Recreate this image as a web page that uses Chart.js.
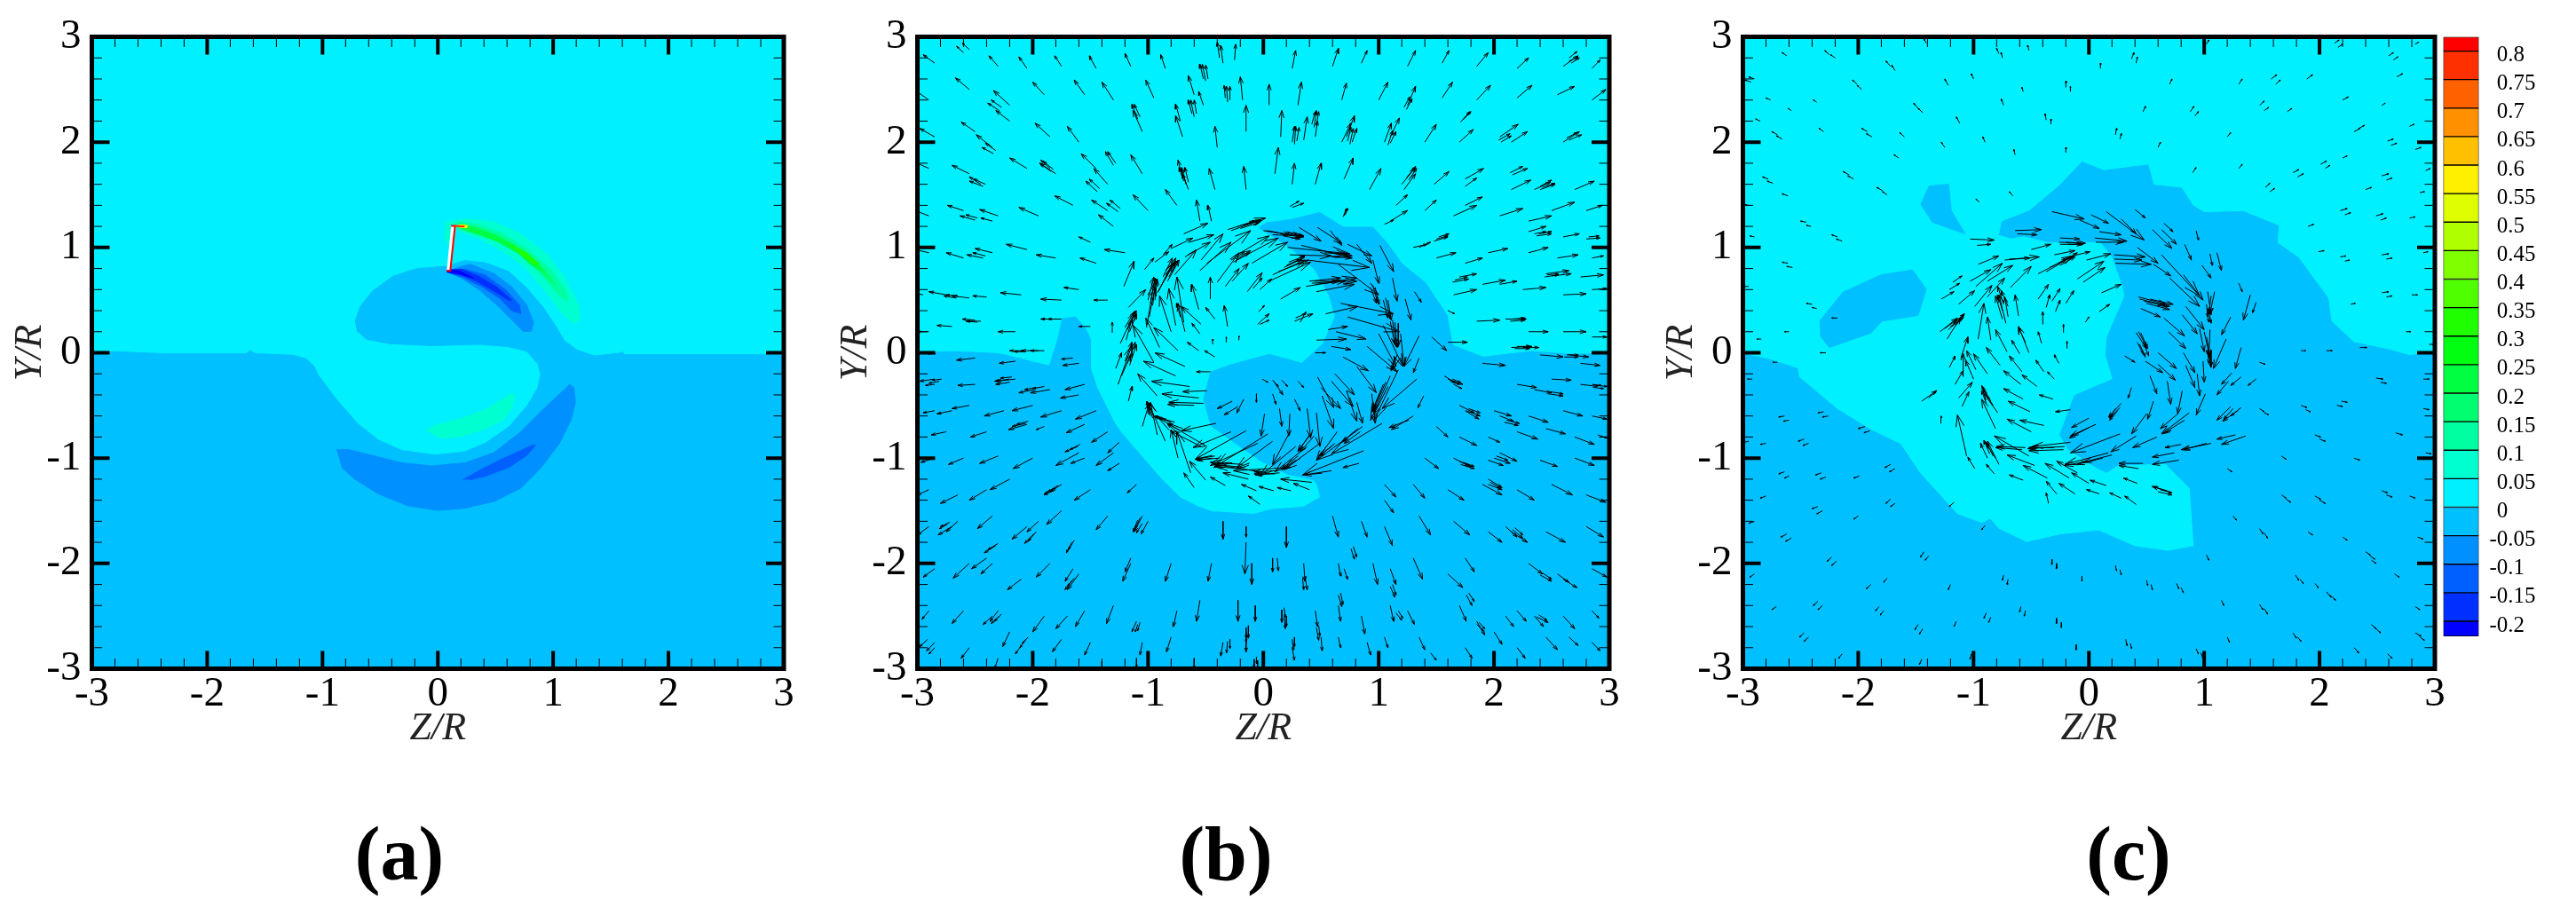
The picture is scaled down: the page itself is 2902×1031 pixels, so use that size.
<!DOCTYPE html>
<html>
<head>
<meta charset="utf-8">
<script src="https://cdn.jsdelivr.net/npm/chart.js@4"></script>
<style>
html,body{margin:0;padding:0;background:#fff;overflow:hidden;width:2902px;height:1031px}
canvas{position:absolute;top:0}
.cap{position:absolute;top:912px;font:bold 86px "Liberation Serif",serif;color:#000;transform:translateX(-50%)}
</style>
</head>
<body>
<canvas id="panelA" width="913" height="1031" style="left:0"></canvas>
<canvas id="panelB" width="913" height="1031" style="left:930px"></canvas>
<canvas id="panelC" width="913" height="1031" style="left:1860px"></canvas>
<canvas id="bar" width="162" height="1031" style="left:2740px"></canvas>
<div class="cap" style="left:450px">(a)</div>
<div class="cap" style="left:1381px">(b)</div>
<div class="cap" style="left:2398px">(c)</div>
<script>
// tick values and labels
const tickValues=[-3,-2,-1,0,1,2,3];
const tickLabels=['-3','-2','-1','0','1','2','3'];
const minorTicks=[-2.8,-2.6,-2.4,-2.2,-1.8,-1.6,-1.4,-1.2,-.8,-.6,-.4,-.2,.2,.4,.6,.8,1.2,1.4,1.6,1.8,2.2,2.4,2.6,2.8];

// colour bar
const levels=[.8,.75,.7,.65,.6,.55,.5,.45,.4,.35,.3,.25,.2,.15,.1,.05,0,-.05,-.1,-.15,-.2];
const levelLabels=['\u20040.8','\u20040.75','\u20040.7','\u20040.65','\u20040.6','\u20040.55','\u20040.5','\u20040.45','\u20040.4','\u20040.35','\u20040.3','\u20040.25','\u20040.2','\u20040.15','\u20040.1','\u20040.05','\u20040','-0.05','-0.1','-0.15','-0.2'];
const bandEdges=[.825,.8,.75,.7,.65,.6,.55,.5,.45,.4,.35,.3,.25,.2,.15,.1,.05,0,-.05,-.1,-.15,-.2,-.2265];
const bandColors=['#ff0000','#ff3000','#ff6000','#ff9000','#ffc000','#fff000','#dfff00','#afff00','#7fff00','#4fff00','#1fff00','#00ff10','#00ff40','#00ff70','#00ffa0','#00ffd0','#00f0ff','#00c0ff','#0090ff','#0060ff','#0030ff','#0000ff'];

const plotBox=[[-3,-3],[3,-3],[3,3],[-3,3]];

// panel a contours
const aWave=[[-3,0],[-2.81,.02],[-2.39,0],[-1.66,0],[-1.63,.03],[-1.58,0],[-1.25,-.015],[-1.14,-.05],[-1.07,-.12],[-1.026,-.218],[-.872,-.442],[-.693,-.667],[-.513,-.822],[-.308,-.92],[-.026,-.962],[.231,-.934],[.411,-.85],[.616,-.695],[.77,-.499],[.86,-.33],[.885,-.204],[.86,-.105],[.77,.007],[.616,.049],[.359,.072],[-.051,.058],[-.411,.077],[-.616,.119],[-.706,.204],[-.724,.302],[-.68,.442],[-.565,.597],[-.385,.737],[-.18,.808],[.077,.83],[.231,.883],[.411,.864],[.616,.78],[.77,.625],[.924,.428],[1.026,.26],[1.103,.119],[1.206,.035],[1.36,-.021],[1.591,.007],[1.6,.02],[1.62,-.01],[3,-.01],[3,3],[-3,3]];
const aBlobOuter=[[.1,.78],[.17,.81],[.28,.84],[.49,.75],[.64,.625],[.77,.456],[.83,.288],[.81,.204],[.74,.204],[.64,.316],[.51,.456],[.36,.597],[.205,.709],[.1,.76]];
const aBlobMid=[[.1,.78],[.23,.794],[.41,.737],[.59,.597],[.706,.456],[.72,.372],[.64,.4],[.54,.513],[.385,.625],[.23,.709],[.1,.76]];
const aBlobInner=[[.09,.788],[.205,.794],[.36,.723],[.51,.625],[.64,.5],[.616,.5],[.49,.583],[.334,.681],[.205,.737],[.09,.765]];
const aBlobCore=[[.077,.788],[.18,.78],[.31,.709],[.18,.751],[.077,.765]];
const aGreen1=[[.064,1.243],[.257,1.271],[.488,1.243],[.719,1.13],[.949,.934],[1.103,.709],[1.219,.456],[1.232,.316],[1.18,.274],[1.078,.372],[.924,.597],[.744,.822],[.565,.962],[.385,1.074],[.231,1.13],[.154,1.187],[.13,.93],[.06,1.1]];
const aGreen2=[[.167,1.243],[.359,1.215],[.565,1.13],[.77,.99],[.975,.794],[1.103,.597],[1.129,.485],[1.052,.541],[.898,.737],[.719,.934],[.539,1.046],[.359,1.117],[.18,1.173]];
const aGreen3=[[.18,1.229],[.359,1.187],[.539,1.103],[.744,.976],[.924,.794],[1.026,.639],[.975,.681],[.821,.85],[.642,.99],[.462,1.089],[.282,1.145],[.18,1.187]];
const aGreen4=[[.205,1.215],[.359,1.165],[.488,1.117],[.642,1.032],[.821,.892],[.924,.765],[.821,.822],[.693,.948],[.513,1.06],[.334,1.136],[.205,1.187]];
const aGreen5=[[.616,1.032],[.77,.948],[.885,.836],[.821,.85],[.693,.962]];
const aTip=[[.18,1.215],[.257,1.209],[.251,1.187],[.18,1.193]];
const aBlade=[[.115,1.206],[.149,1.206],[.108,.78],[.077,.78]];
const aBladeTip=[[.149,1.206],[.231,1.198]];
const aLowerGreen=[[-.103,-.737],[0,-.681],[.205,-.625],[.41,-.541],[.642,-.386],[.667,-.414],[.642,-.527],[.565,-.639],[.41,-.723],[.205,-.794],[.026,-.813]];
const aLowerBlue=[[-.878,-.92],[-.77,-.92],[-.565,-.976],[-.308,-1.046],[-.051,-1.074],[.231,-1.046],[.488,-.948],[.719,-.751],[.924,-.527],[1.142,-.302],[1.18,-.33],[1.193,-.47],[1.155,-.639],[1.052,-.864],[.898,-1.088],[.719,-1.285],[.488,-1.412],[.231,-1.476],[0,-1.496],[-.257,-1.454],[-.513,-1.341],[-.719,-1.201],[-.834,-1.088]];
const aLowerCore=[[.218,-1.206],[.359,-1.117],[.565,-1.004],[.821,-.878],[.847,-.878],[.77,-.976],[.616,-1.088],[.41,-1.173],[.282,-1.206]];

// panel b contour
const bCyan=[[-3,.01],[-2.67,.02],[-2.29,0],[-1.86,-.116],[-1.79,.13],[-1.75,.33],[-1.63,.35],[-1.54,.24],[-1.488,.119],[-1.488,-.16],[-1.437,-.33],[-1.283,-.667],[-1.232,-.75],[-.898,-1.173],[-.719,-1.369],[-.565,-1.454],[-.45,-1.5],[-.08,-1.525],[.066,-1.48],[.35,-1.456],[.488,-1.369],[.462,-1.257],[.436,-1.215],[.205,-1.159],[-.026,-1.032],[-.282,-.836],[-.462,-.695],[-.526,-.442],[-.462,-.176],[-.282,-.105],[.051,-.007],[.334,-.091],[.513,.091],[.616,.344],[.565,.541],[.436,.794],[.231,.99],[.077,1.102],[-.051,1.187],[.026,1.243],[.231,1.271],[.488,1.341],[.693,1.201],[.949,1.201],[1.078,1.046],[1.206,.85],[1.411,.667],[1.54,.456],[1.6,.354],[1.646,.077],[1.906,-.033],[2.33,.022],[2.66,-.005],[3,0],[3,3],[-3,3]];

// panel c contours
const cCyan=[[-3,0],[-2.76,-.06],[-2.52,-.144],[-2.51,-.227],[-2.18,-.53],[-1.89,-.725],[-1.63,-.863],[-1.46,-1.14],[-1.14,-1.527],[-.93,-1.61],[-.855,-1.572],[-.78,-1.666],[-.54,-1.793],[-.25,-1.72],[.085,-1.682],[.4,-1.832],[.686,-1.876],[.904,-1.832],[.87,-1.285],[.74,-1.145],[.665,-1.06],[.254,-1.074],[.151,-1.145],[.049,-1.088],[-.182,-.92],[-.259,-.78],[-.131,-.4],[.2,-.246],[.139,-.021],[.151,.147],[.305,.541],[.28,.653],[.2,.906],[.1,1.046],[-.105,1.046],[-.362,1.046],[-.567,1.102],[-.67,1.08],[-.785,1.117],[-.76,1.25],[-.516,1.355],[-.25,1.6],[-.06,1.82],[.13,1.738],[.518,1.793],[.566,1.6],[.807,1.572],[.904,1.406],[1,1.339],[1.337,1.35],[1.65,1.212],[1.64,1.046],[1.82,.908],[2.08,.52],[2.108,.3],[2.3,.105],[2.59,.04],[2.78,-.017],[3,.005],[3,3],[-3,3]];
const cIsland1=[[-1.458,1.406],[-1.386,1.583],[-1.217,1.6],[-1.193,1.35],[-1.072,1.129],[-1.361,1.24]];
const cIsland2=[[-2.335,.3],[-2.133,.575],[-1.795,.742],[-1.53,.786],[-1.41,.603],[-1.482,.354],[-1.795,.3],[-1.89,.188],[-2.25,.05],[-2.33,.16]];

// arrows: z, y, dz, dy
const bOuterArrows=[
[-2.85,2.75,-.1,.08],[-2.6,2.85,-.06,.06],[-2.55,2.88,-.06,.06],[-2.3,2.72,-.08,.1],[-2.05,2.7,-.07,.11],[-1.75,2.72,-.06,.1],[-1.45,2.7,-.06,.12],[-1.15,2.72,-.05,.12],[-.85,2.7,-.04,.13],[-.35,2.75,-.02,.17],[-.38,2.8,-.02,.15],[-.25,2.78,.01,.15],[.25,2.7,.03,.17],[.6,2.72,.05,.17],[.85,2.75,.05,.12],[1.25,2.72,.07,.15],[1.55,2.75,.06,.12],[1.85,2.72,.1,.13],[2.2,2.7,.1,.1],[2.6,2.72,.13,.1],[2.65,2.8,.07,.06],[2.85,2.7,.07,.08],
[-2.9,2.4,-.13,.1],[-2.55,2.5,-.12,.11],[-2.2,2.35,-.14,.14],[-1.9,2.45,-.1,.12],[-1.55,2.45,-.09,.14],[-1.3,2.4,-.1,.17],[-.95,2.42,-.07,.17],[-.6,2.45,-.05,.18],[-.52,2.35,-.04,.13],[-.18,2.4,-.02,.22],[.05,2.35,0,.2],[.3,2.35,.03,.22],[.68,2.4,.04,.16],[1,2.4,.08,.17],[1.25,2.35,.07,.18],[1.55,2.42,.09,.15],[1.85,2.4,.12,.14],[2.2,2.42,.13,.12],[2.55,2.45,.15,.08],[2.85,2.4,.12,.1],
[-2.85,2.05,-.13,.08],[-2.5,2.1,-.12,.09],[-2.35,1.95,-.14,.12],[-2.2,2.2,-.12,.1],[-1.85,2.05,-.13,.13],[-1.6,2,-.1,.15],[-1.05,2.1,-.08,.2],[-.72,2.2,-.04,.16],[-.7,2.05,-.06,.2],[-.4,1.95,-.02,.2],[-.15,2.1,0,.25],[.15,2.05,.01,.25],[.35,2.02,.03,.22],[.45,2.05,.02,.15],[.68,2,.08,.18],[.72,2.05,.07,.2],[1.05,2,.06,.18],[1.1,2.05,.08,.18],[1.4,2,.1,.17],[1.7,2,.12,.12],[2.05,2.05,.16,.12],[2.15,2,.14,.1],[2.6,2,.14,.1],
[-2.9,1.75,-.12,.06],[-2.55,1.7,-.15,.08],[-2.45,1.6,-.1,.07],[-2.05,1.75,-.15,.1],[-1.8,1.7,-.14,.1],[-1.85,1.75,-.08,.08],[-1.45,1.75,-.13,.14],[-1.35,1.6,-.12,.15],[-1.05,1.7,-.1,.18],[-.65,1.55,-.05,.15],[-.7,1.65,-.04,.18],[-.67,1.6,-.04,.14],[-.42,1.55,-.05,.2],[-.15,1.55,-.02,.22],[.1,1.7,.03,.25],[.25,1.6,.02,.2],[.45,1.6,.05,.2],[.7,1.65,.08,.2],[.92,1.55,.1,.2],[1.2,1.6,.12,.16],[1.22,1.55,.1,.15],[1.48,1.6,.13,.12],[1.75,1.65,.16,.1],[1.75,1.58,.1,.08],[2.15,1.55,.17,.09],[2.35,1.55,.14,.07],[2.4,1.58,.1,.06],[2.7,1.55,.17,.08],
[-2.9,1.3,-.12,.05],[-2.6,1.35,-.14,.05],[-2.3,1.3,-.16,.06],[-2.35,1.25,-.1,.03],[-1.95,1.3,-.17,.08],[-1.65,1.4,-.16,.09],[-1.35,1.35,-.14,.1],[-1.3,1.2,-.13,.11],[-1,1.35,-.13,.15],[-.75,1.4,-.1,.15],[-.55,1.25,-.03,.2],[-.45,1.25,-.03,.15],[1.05,1.22,.08,.04],[1.1,1.25,.15,.1],[1.4,1.35,.1,.1],[1.15,1.4,.1,.1],[1.65,1.3,.2,.1],[1.75,1.4,.15,.08],[2.05,1.3,.2,.07],[2.3,1.25,.2,.05],[2.5,1.35,.2,.08],[2.8,1.35,.14,.05],
[-2.9,.95,-.12,.03],[-2.6,.9,-.15,.05],[-2.35,.95,-.15,.04],[-2.05,.98,-.18,.05],[-1.8,.9,-.17,.03],[-1.45,.85,-.14,.05],[-1.2,.95,-.18,.03],[-1.5,1.05,-.1,.05],[1.35,1,.1,.05],[1.3,1,.12,.03],[1.5,.9,.17,.05],[1.75,.85,.15,.05],[1.95,.95,.17,.04],[2.3,1.15,.15,.05],[2.35,1.13,.1,.02],[2.3,.95,.17,.05],[2.6,1.1,.14,.03],[2.55,.9,.18,.03],[2.85,.9,.1,.02],
[-2.95,.55,-.05,.01],[-2.75,.55,-.15,.03],[-2.55,.52,-.15,.02],[-2.4,.53,-.12,.01],[-2.1,.55,-.18,.02],[-1.75,.5,-.18,.01],[-1.6,.6,-.13,.02],[-1.35,.5,-.12,0],[1.65,.55,.2,.05],[1.7,.72,.15,.03],[1.9,.65,.2,.04],[2.05,.65,.15,.03],[2.25,.6,.2,.02],[2.45,.75,.2,.03],[2.5,.73,.17,.02],[2.75,.72,.2,.02],[2.85,.6,.13,.01],[2.6,.55,.2,.01],
[-2.9,.2,-.1,0],[-2.7,.25,-.13,.01],[-2.45,.3,-.13,0],[-2.15,.2,-.15,0],[-1.8,.32,-.13,0],[-1.75,.32,-.12,0],[-1.5,.25,-.1,0],[1.85,.3,.2,.01],[2.1,.32,.18,0],[2.3,.2,.17,0],[2.15,.05,.18,.01],[2.25,.05,.14,0],[2.6,.2,.2,0],[2.85,.15,.13,0],[1.6,.1,.17,0],
[-2.85,0,-.1,0],[-1.95,.02,-.15,0],[-1.9,.02,-.12,0],[-1.6,-.1,-.14,-.02],[-1.65,-.05,-.1,-.01],[-2.5,-.05,-.16,-.02],[-2.15,-.08,-.14,-.02],[1.9,-.1,.2,-.02],[2.4,-.02,.2,-.02],[2.65,-.02,.17,-.02],[2.75,-.1,.17,-.02],
[-2.85,-.25,-.13,-.02],[-2.85,-.3,-.08,-.01],[-2.5,-.3,-.15,-.01],[-2.15,-.25,-.17,-.02],[-2.2,-.28,-.12,-.02],[-1.85,-.35,-.17,-.03],[-1.9,-.32,-.1,-.02],[-1.55,-.3,-.17,-.05],[-1.6,-.4,-.16,-.03],[1.6,-.25,.13,-.05],[1.65,-.3,.07,-.04],[2.2,-.3,.17,-.03],[2.35,-.35,.15,-.03],[2.75,-.3,.15,-.02],[2.5,-.25,.17,-.01],[2.85,-.3,.08,-.01],
[-2.85,-.55,-.1,-.02],[-2.55,-.5,-.15,-.03],[-2.7,-.55,-.13,-.03],[-2.25,-.55,-.17,-.05],[-2,-.5,-.18,-.05],[-1.75,-.55,-.18,-.06],[-1.45,-.55,-.18,-.08],[1.7,-.5,.13,-.07],[1.75,-.55,.12,-.08],[2,-.55,.15,-.05],[2.05,-.6,.12,-.05],[2.3,-.6,.17,-.06],[2.6,-.55,.17,-.05],[2.85,-.6,.13,-.03],
[-2.75,-.75,-.13,-.03],[-2.4,-.75,-.14,-.05],[-2.05,-.68,-.16,-.05],[-1.55,-.68,-.16,-.08],[-1.9,-.7,-.07,-.03],[-1.35,-.75,-.14,-.1],[-1.25,-.85,-.1,-.1],[1.5,-.7,.1,-.1],[1.7,-.8,.15,-.08],[1.95,-.8,.1,-.05],[2.2,-.75,.18,-.07],[2.45,-.72,.17,-.05],[2.7,-.8,.17,-.07],[2.9,-.78,.08,-.03],
[-2.85,-1,-.12,-.04],[-2.6,-1,-.13,-.06],[-2.3,-.98,-.16,-.07],[-2,-1,-.17,-.1],[-1.6,-.95,-.2,-.12],[-1.55,-1,-.12,-.05],[-1.3,-.95,-.15,-.12],[-1.25,-1.05,-.1,-.07],[1.4,-1,.12,-.1],[1.65,-1,.14,-.08],[1.7,-1.03,.1,-.05],[1.95,-1.02,.13,-.05],[2.05,-.95,.15,-.08],[2.4,-1.02,.15,-.06],[2.7,-1,.17,-.07],
[-2.9,-1.3,-.1,-.05],[-2.65,-1.35,-.15,-.08],[-2.4,-1.3,-.15,-.1],[-2.2,-1.2,-.17,-.1],[-1.75,-1.25,-.1,-.07],[-1.8,-1.3,-.1,-.05],[-1.5,-1.3,-.14,-.1],[-1.1,-1.25,-.08,-.08],[1.05,-1.25,.1,-.12],[1.05,-1.4,.08,-.12],[1.3,-1.25,.1,-.13],[1.6,-1.3,.14,-.1],[1.9,-1.25,.17,-.1],[1.95,-1.2,.12,-.08],[2.2,-1.3,.15,-.1],[2.5,-1.25,.18,-.1],[2.8,-1.35,.17,-.07],
[-2.9,-1.65,-.1,-.08],[-2.65,-1.6,-.1,-.1],[-2.7,-1.65,-.12,-.08],[-2.35,-1.55,-.13,-.12],[-2.05,-1.65,-.13,-.12],[-1.95,-1.6,-.1,-.1],[-1.75,-1.5,-.13,-.13],[-1.35,-1.55,-.1,-.13],[-1.05,-1.55,-.07,-.15],[-1,-1.6,-.06,-.12],[-.35,-1.6,0,-.17],[-.15,-1.65,0,-.1],[.2,-1.65,0,-.2],[.6,-1.55,.05,-.2],[.85,-1.6,.05,-.15],[1.05,-1.65,.07,-.18],[1.35,-1.55,.1,-.18],[1.65,-1.6,.14,-.13],[1.95,-1.7,.12,-.1],[2.15,-1.7,.14,-.1],[2.1,-1.65,.1,-.1],[2.45,-1.7,.17,-.1],[2.8,-1.65,.15,-.1],
[-2.85,-2.05,-.1,-.08],[-2.55,-2,-.14,-.14],[-2.35,-2,-.1,-.1],[-2.4,-1.95,-.13,-.1],[-2.1,-2.15,-.12,-.1],[-1.85,-2,-.12,-.13],[-1.6,-2.1,-.1,-.15],[-1.65,-2.05,-.07,-.12],[-1.15,-2,-.07,-.17],[-1.15,-1.95,-.05,-.13],[-.8,-2,-.05,-.17],[-.45,-2,-.03,-.17],[-.15,-1.8,-.01,-.3],[-.1,-2,0,-.2],[.08,-1.95,0,-.13],[.12,-1.95,.01,-.12],[.35,-2,.01,-.17],[.65,-2,.02,-.12],[.7,-2.05,.03,-.1],[.95,-2,.04,-.2],[1.1,-2.05,.05,-.15],[1.3,-1.95,.08,-.2],[1.75,-1.95,.08,-.13],[1.6,-2.1,.13,-.13],[2.3,-2,.12,-.1],[2.55,-2.1,.1,-.08],[2.6,-2.15,.12,-.08],[2.85,-2.05,.13,-.08],
[-2.9,-2.45,-.06,-.08],[-2.6,-2.45,-.1,-.12],[-2.3,-2.45,-.07,-.1],[-2.35,-2.5,-.08,-.08],[-1.9,-2.5,-.1,-.15],[-1.55,-2.45,-.08,-.15],[-1.7,-2.5,-.1,-.12],[-1.3,-2.4,-.06,-.17],[-1.1,-2.55,-.04,-.1],[-.75,-2.45,-.03,-.15],[-.55,-2.35,-.03,-.2],[-.22,-2.35,0,-.2],[-.07,-2.4,0,-.15],[.18,-2.5,.01,-.12],[.2,-2.5,0,-.1],[.45,-2.45,.02,-.15],[.65,-2.4,.02,-.15],[.85,-2.5,.03,-.17],[1.1,-2.4,.03,-.15],[1.25,-2.45,.06,-.13],[1.7,-2.4,.06,-.15],[1.85,-2.55,.07,-.13],[2.1,-2.5,.07,-.1],[2.2,-2.45,.08,-.1],[2.6,-2.5,.1,-.12],[2.85,-2.45,.06,-.07],[2.35,-2.5,.08,-.1],
[-2.85,-2.75,-.07,-.08],[-2.85,-2.8,-.05,-.06],[-2.55,-2.8,-.07,-.1],[-2.2,-2.65,-.06,-.14],[-2.1,-2.78,-.05,-.08],[-1.75,-2.72,-.08,-.12],[-1.5,-2.75,-.05,-.12],[-1.05,-2.75,-.02,-.12],[-.8,-2.7,-.04,-.14],[-.35,-2.75,-.02,-.13],[-.15,-2.7,0,-.14],[-.15,-2.65,0,-.1],[.25,-2.8,.02,-.12],[.5,-2.7,.01,-.13],[.65,-2.7,.02,-.1],[.9,-2.75,.03,-.12],[1.05,-2.7,.03,-.1],[1.35,-2.7,.05,-.12],[1.45,-2.85,.05,-.07],[1.75,-2.8,.06,-.1],[2,-2.65,.07,-.12],[2.2,-2.8,.07,-.1],[2.45,-2.7,.1,-.12],[2.65,-2.7,.08,-.08],[2.85,-2.75,.07,-.08],[-.05,-2.92,0,-.08],[-.6,-2.9,0,-.1],[-1.1,-2.9,0,-.09],[-1.4,-2.93,0,-.07],[-2.3,-2.9,-.03,-.1]
];
// dark tufts where several arrows sit on top of each other
const bTuftArrows=[
[-.5,2.58,-.03,.16],[-.48,2.6,-.02,.13],[-.52,2.6,-.03,.14],[-.31,2.38,-.01,.15],[-.29,2.4,0,.13],[-.33,2.42,-.01,.12],[-.6,2.24,-.03,.16],[-.58,2.27,-.02,.13],[-.62,2.27,-.03,.13],[-1.09,2.22,-.05,.14],[-1.07,2.24,-.05,.12],[-2.29,2.3,-.1,.07],[-2.27,2.33,-.09,.07],[.44,2.14,.02,.16],[.46,2.16,.02,.13],[.42,2.17,.03,.12],[.27,1.98,.01,.17],[.25,2,.02,.15],[.29,2.01,.02,.13],[-1.3,1.78,-.07,.13],[-1.28,1.8,-.07,.11],[-2.34,1.89,-.1,.06],[-2.32,1.92,-.09,.07],[-1.84,1.72,-.1,.08],[-1.82,1.74,-.09,.08],[-.67,1.6,-.04,.16],[-.65,1.62,-.03,.14],[-.69,1.63,-.04,.13],[-1.44,1.53,-.1,.1],[-1.42,1.56,-.09,.09],[-2.43,1.58,-.12,.05],[-2.41,1.6,-.1,.05],[-1.26,1.34,-.1,.08],[-1.24,1.37,-.09,.08],[.23,1.39,.08,.05],[.25,1.38,.1,.04],[.7,1.3,.02,.07],[.71,1.31,.02,.06],[.69,1.29,.03,.07],[-2.5,1.26,-.13,.04],[-2.48,1.28,-.1,.03],[-2.43,.9,-.14,.03],[-2.41,.92,-.11,.03],[-2.67,.52,-.1,.02],[-2.65,.54,-.1,.01],[-2.5,.31,-.11,.01],[-2.48,.29,-.09,.01],[-2.08,.02,-.12,0],[-2.06,.01,-.1,0],[-2.86,0,-.08,0],[-2.84,-.01,-.07,0],[-2.81,-.27,-.09,-.02],[-2.79,-.25,-.08,-.01],[-2.2,-.25,-.13,-.02],[-2.18,-.23,-.1,-.01],[-1.99,-.35,-.13,-.03],[-1.97,-.33,-.1,-.02],[-2.06,-.67,-.12,-.03],[-2.04,-.65,-.1,-.03],[-1.8,-1.28,-.1,-.06],[-1.78,-1.26,-.09,-.06],[-1.61,-.89,-.11,-.05],[-1.59,-.87,-.09,-.05],[-2.74,-1.63,-.07,-.04],[-2.72,-1.61,-.08,-.04],[-1.66,-2.16,-.06,-.09],[-1.64,-2.14,-.06,-.08],[-2.32,-1.83,-.1,-.07],[-2.3,-1.81,-.09,-.06],[-1.99,-1.72,-.08,-.09],[-1.97,-1.7,-.07,-.09],[-1.66,-1.8,-.05,-.1],[-1.64,-1.78,-.05,-.09],[-1.09,-1.59,-.04,-.11],[-1.07,-1.57,-.04,-.1],[-1.05,-1.62,-.05,-.09],[-1.09,-2.58,-.02,-.07],[-1.07,-2.56,-.02,-.08],[-2.29,-2.5,-.07,-.07],[-2.27,-2.48,-.06,-.07],[-2.06,-2.72,-.05,-.08],[-2.04,-2.7,-.05,-.06],[-2.91,-2.72,-.07,-.07],[-.31,-2.74,-.01,-.11],[-.29,-2.72,0,-.09],[-.08,-2.91,0,-.07],[-.06,-2.89,0,-.06],[-.15,-2.61,0,-.1],[-.13,-2.59,0,-.12],[.25,-2.72,.01,-.1],[.27,-2.7,0,-.09],[.46,-2.61,.02,-.12],[.48,-2.59,.01,-.1],[.65,-2.3,.03,-.11],[.67,-2.28,.02,-.11],[.16,-2.44,0,-.12],[.18,-2.42,.01,-.09],[.34,-2.14,.01,-.11],[.36,-2.12,.02,-.13],[.76,-1.86,.03,-.1],[.78,-1.84,.03,-.1],[1.1,-2.22,.04,-.1],[1.12,-2.2,.03,-.1],[1.15,-2.47,.05,-.07],[1.17,-2.45,.04,-.07],[1.85,-2.58,.06,-.06],[1.87,-2.56,.05,-.06],[2.37,-2.51,.1,-.05],[2.39,-2.49,.07,-.05],[1.71,-1.06,.12,-.04],[1.73,-1.04,.1,-.04],[2,-1,.14,-.05],[2.02,-.98,.1,-.04],[1.95,-1.25,.12,-.05],[1.97,-1.23,.09,-.06],[2.16,-1.68,.09,-.08],[2.18,-1.66,.07,-.07],[2.4,-2.11,.1,-.06],[2.42,-2.09,.08,-.06],[1.76,-2.3,.05,-.1],[1.78,-2.28,.05,-.08],[2.89,-.31,.09,-.01],[2.87,-.33,.08,-.01],[1.5,1.08,.1,.03],[1.52,1.1,.09,.03],[1.48,1.06,.12,.04],[2.37,1.11,.13,.02],[2.39,1.13,.11,.02],[2.8,1.08,.12,.01],[2.82,1.1,.09,.01],[2.04,2.02,.1,.06],[2.06,2,.09,.06],[2.65,2.02,.11,.05],[2.63,2.04,.09,.05],[2.16,1.69,.13,.06],[2.14,1.71,.11,.06],[2.4,1.55,.13,.05],[2.42,1.57,.11,.04],[1.71,2.19,.08,.1],[1.73,2.21,.07,.08],[2.65,2.77,.08,.04],[2.67,2.75,.07,.05],[2.44,.72,.12,.02],[2.46,.74,.1,.01],[2.14,.3,.13,.01],[2.16,.32,.11,.01],[2.18,.04,.13,0],[2.2,.06,.11,0],[2.61,-.04,.12,0],[2.63,-.02,.1,0],[1.62,-.27,.08,-.03],[1.64,-.25,.07,-.03],[1.76,-.55,.12,-.05],[1.78,-.53,.1,-.04],[2.09,-.66,.12,-.03],[2.11,-.64,.11,-.03],[2.47,-.39,.13,-.02],[2.49,-.37,.11,-.02],[1.64,.67,.14,.03],[1.66,.69,.11,.03],[1.08,1.97,.04,.14],[1.1,1.99,.05,.11],[.75,1.98,.03,.15],[.77,2,.04,.13],[.73,2.01,.03,.13],[1.24,1.66,.08,.11],[1.26,1.64,.07,.11],[1.22,2.33,.05,.1],[1.24,2.31,.05,.1],
[-.98,.47,.04,.24],[-1,.5,.05,.22],[-.96,.45,.03,.25],[-.94,.5,.02,.2],[-.85,.7,.09,.2],[-.87,.72,.08,.18],[-.83,.68,.1,.2],[-.82,.72,.08,.16],[-1.18,.22,.08,.18],[-1.2,.24,.08,.15],[-1.16,.2,.06,.17],[-1.18,-.1,.07,.2],[-1.2,-.08,.06,.18],[-1.16,-.12,.06,.2],[-.98,-.6,-.03,.14],[-1,-.58,-.01,.12],[-.96,-.62,-.04,.15],[-.95,-.6,-.05,.12],[-.84,-.63,-.1,.03],[-.82,-.65,-.12,.04],[-.8,-.66,-.11,.05],[-.72,-.74,-.11,.07],[-.7,-.72,-.12,.05],[-.74,-.76,-.09,.08],[-.42,-.98,-.17,-.03],[-.38,-1,-.2,-.02],[-.44,-1,-.14,-.02],[-.18,-1.06,-.28,.02],[-.16,-1.09,-.26,.03],[-.2,-1.1,-.22,.02],[.12,-1.12,-.2,-.01],[.1,-1.15,-.18,0],[.14,-1.14,-.21,-.02],[.3,-.98,-.14,-.12],[.32,-1,-.13,-.1],[.28,-1.02,-.12,-.09],[.42,-.76,-.12,-.17],[.4,-.78,-.1,-.16],[.44,-.79,-.12,-.15],[.62,-.86,-.13,-.12],[.6,-.88,-.12,-.1],[.82,-.72,-.13,-.12],[.8,-.74,-.12,-.11],[.84,-.75,-.14,-.11],[1.06,-.28,-.11,-.28],[1.04,-.3,-.1,-.26],[1.08,-.32,-.12,-.26],[1.02,-.36,-.08,-.2],[1.16,-.02,-.05,-.14],[1.14,-.04,-.03,-.13],[1.18,-.06,-.06,-.1],[1.12,.31,.03,-.25],[1.14,.29,.02,-.24],[1.1,.3,.04,-.22],[1.17,.28,0,-.22],[1.06,.52,.04,-.2],[1.08,.5,.03,-.19],[1.04,.5,.04,-.17],[.95,.64,.04,-.16],[.97,.62,.03,-.16],[.93,.62,.05,-.15],[.55,.92,.22,-.02],[.57,.95,.2,-.03],[.53,.95,.2,-.01],[.4,.68,.27,.03],[.42,.66,.24,.02],[.45,.65,.26,.03],[.15,1.13,.17,-.03],[.17,1.11,.15,-.03],[.2,1.15,.15,-.04],[-.2,1.18,.17,.06],[-.18,1.21,.16,.05],[-.22,1.2,.14,.05],[.2,.83,.16,.08],[.22,.86,.14,.06],[.18,.81,.15,.08],[-.26,.86,.14,.09],[-.24,.89,.13,.08],[-.28,.88,.12,.08]
];
const bRingArrows=[
[-1.03,.79,.08,.11],[-.94,.86,.12,.1],[-.87,.93,.08,.1],[-1.17,.43,.15,.17],[-1.01,.26,.06,.39],[-.99,.34,.05,.28],[-.92,.57,.15,.29],[-.91,.58,.12,.27],[-.89,.63,.13,.24],[-.85,.74,.09,.13],[-.77,.74,.19,.24],[-.68,.91,.22,.14],[-.8,.99,.19,.1],[-.55,.78,.27,.27],[-.49,.85,.38,.31],[-.54,.88,.19,.25],[-.4,.67,.19,.28],[-.33,.63,.12,.17],[-.27,.68,.14,.17],[-.1,.85,.31,.2],[-.23,.88,.36,.21],[-.26,.91,.31,.2],[-.14,.58,.13,.18],[-.09,.61,.08,.1],[-.03,.6,.1,.1],[.05,.68,.36,.18],[.08,.74,.28,.14],[.13,.77,.26,.11],[.15,.51,.17,.11],
[-.69,1.13,.21,.1],[-.64,1.05,.21,.07],[-.31,1.17,.33,.11],[-.28,1.16,.26,.1],[0,1.16,.35,-.06],[.08,1.12,.27,-.01],[.21,1.14,.13,-.04],[.03,1.16,.2,-.04],
[-1.24,.09,.13,.31],[-1.19,.12,.05,.2],[-1.26,-.3,.12,.37],[-1.28,-.15,.05,.15],[-1.23,-.22,.08,.2],[-1.17,-.46,.03,.14],[-1.21,.63,.09,.24],[-1.31,.19,0,.1],[-.46,.51,0,.21],[-.56,.41,-.06,.24],[-.68,.2,-.06,.27],[-.8,.2,-.1,.34],[-.76,.26,-.06,.35],[-.69,.29,-.06,.43],[-.72,.34,-.03,.13],[-.54,.27,-.17,.17],[-.9,.05,-.12,.28],[-.74,.02,-.21,.22],[-.55,.18,-.07,.1],[-.68,-.13,-.26,.13],[-.76,-.22,-.28,.14],[-.95,-.09,-.18,.35],[-.92,-.41,-.17,.21],[-.49,-.36,-.21,-.01],[-.64,-.32,-.33,.05],[-.56,-.43,-.32,.04],[-.52,-.48,-.3,.01],[-.6,-.5,-.23,.01],[-.85,-.84,-.15,.37],[-.92,-.78,-.06,.31],[-1.05,-.7,.06,.22],[-.41,-.67,-.3,-.07],[-.49,-.89,-.42,.27],[-.54,-.89,-.27,.15],[-.63,-1.14,-.12,.39],[-.74,-1,-.06,.27],[-.5,-1.21,-.14,.18],[-.6,-1.28,-.09,.14],[-.33,-1.26,-.13,.08],[-.06,-1.31,-.13,.06],[.09,-1.31,-.13,.04],[.24,-1.31,-.12,.03],[.4,-1.3,-.14,.06],[.42,-1.23,-.27,.03],[-.13,-1.2,-.22,.06],[-.03,-1.44,-.1,.08],
[-.15,-.74,-.44,-.27],[-.28,-.75,-.33,-.15],[.04,-.77,-.47,-.32],[-.05,-.86,-.41,-.21],[.08,-.84,-.31,-.25],[.23,-.75,-.15,-.31],[.23,-.58,-.01,-.21],[.14,-.53,.02,-.17],[.01,-.58,-.03,-.21],[.38,-.53,.03,-.28],[.46,-.57,.03,-.32],[.51,-.41,.1,-.31],[.47,-.23,.14,-.29],[.5,-.33,.17,-.2],[.62,-.2,.17,-.2],[.59,-.27,.19,-.24],[.72,-.36,.09,-.29],[.81,-.47,.05,-.2],[.64,-.75,-.18,-.27],[.49,-.86,-.31,-.25],[.38,-.89,-.28,-.24],[.28,-.89,-.31,-.28],[.86,-.7,-.4,-.32],[1.03,-.67,-.44,-.29],[.87,-.93,-.53,-.23],[.59,-1.12,-.24,-.04],[.83,-1.05,-.14,-.04],[.03,-1.14,-.46,.08],[.23,-1.09,-.49,-.03],
[.31,1.19,.19,-.13],[.47,1.19,.21,-.15],[.58,1.16,.1,-.14],[.21,1,.54,-.06],[.33,1.02,.41,-.11],[.23,.93,.36,-.01],[.38,.88,.54,-.07],[.37,.63,.44,.08],[.44,.68,.37,0],[.46,.58,.33,.07],[.73,1.03,.21,-.11],[.81,1.03,.13,-.18],[.65,.84,.35,-.29],[.95,.88,.05,-.22],[1.01,1.02,.12,-.25],[1.12,.71,.04,-.22],[1.23,.51,.05,-.2],[.54,.37,.28,.07],[.67,.47,.46,-.1],[.73,.34,.45,-.14],[.56,.22,.17,.03],[.63,.2,.26,-.07],[.46,.12,.26,.01],[.59,.06,.17,-.03],[.45,0,.09,0],[.69,-.04,.22,-.13],[1,.18,.15,-.31],[.9,.06,.26,-.24],[1.04,.26,.17,-.39],[1.19,.18,.03,-.31],[1.35,.16,-.13,-.29],[1.35,-.05,-.05,-.14],[.81,-.13,.17,-.25],[1.17,-.16,-.21,-.48],[1.1,-.22,-.17,-.42],[1.33,-.25,-.3,-.28],[1.39,-.41,-.05,-.11],[.94,-.39,.03,-.28],[1.46,.15,.13,-.13],[1.31,.58,.06,-.1],[1.6,.4,.06,-.03],[1.3,-.6,-.19,-.13],[1.26,-.64,-.17,-.07],[1.57,-.22,.1,-.07],
[-.31,.25,-.03,.2],[-.42,.32,-.08,.11],[-.44,.08,0,.05],[-.32,.1,0,.05],[-.21,.12,0,.04],[-.56,.02,-.1,.08],[-.42,-.04,-.09,.06],[-.46,-.18,-.12,0],[-.04,.39,.05,.06],[-.05,.27,.1,.1],[-.03,.27,.08,.04],[.27,.3,.16,.07],[.28,.33,.08,.04],[.32,.29,.05,.1],[-.01,-.25,.05,-.03],[.08,-.26,.05,-.06],[.16,-.26,.05,-.06],[.3,-.27,.05,-.06],[.09,-.27,.08,-.13],[.08,-.39,.03,-.1],[.27,-.44,.05,-.11],[-.06,-.39,0,-.08],[-.27,-.46,-.13,-.07],[-.17,-.44,-.06,-.13],[-.22,-.51,-.12,-.08]
];
const cInnerArrows=[
[-.32,1.34,.28,-.07],[.02,1.31,.15,-.08],[-.08,1.26,.17,-.08],[.15,1.34,.33,-.27],[.28,1.27,.13,-.14],[.4,1.36,.09,-.08],[.55,1.17,.17,-.18],[.63,1.17,.13,-.14],[.65,1.23,.08,-.08],[-.64,1.16,.23,.01],[-.62,1.13,.17,-.01],[-1.03,1.08,.21,-.01],[-.97,1.02,.12,.01],[-.25,1.09,.17,-.01],[-.26,1.05,.23,-.01],[.09,1.15,.19,-.03],[.05,1.09,.28,-.03],[.06,1.05,.24,0],[-.5,.98,.17,.05],[-.96,.84,.18,.08],[-.73,.88,.3,.03],[-.69,.89,.18,.01],[-.3,.93,.18,.04],[-.14,.92,.15,.04],[-.44,.75,.3,.17],[-.37,.77,.22,.14],[-.34,.81,.15,.08],[-.02,.88,.21,.06],[.22,.93,.27,-.02],[.22,.89,.24,-.01],[.23,.85,.31,-.01],[-.1,.7,.23,.17],[-.05,.67,.19,.14],[-1.03,.68,.18,.11],[-.98,.63,.23,.22],[-.88,.68,.22,.15],[-.88,.53,.15,.18],[-.68,.62,.18,.2],[-.99,.44,.15,.2],[-1.18,.67,.08,.06],[-1.21,.6,.09,.06],[-1.28,.51,.11,.07],[-1.13,.46,.14,.13],[-.44,.51,.09,.14],[-.37,.43,.03,.12],[-.32,.49,.07,.12],[-.29,.39,.04,.11],[-.2,.47,.07,.12],[.11,.57,.17,.08],[.09,.39,.09,.07],[-.61,.35,-.03,.2],[-.72,.28,-.06,.27],[-.75,.32,-.06,.22],[-.75,.4,-.04,.15],[-.4,.27,0,.12],[-.96,.13,.05,.34],[-.85,.12,-.03,.22],[-1.23,.13,.12,.21],[-1.29,.2,.15,.13],[-1.25,.23,.1,.08],[-.55,.1,-.06,.14],[-.52,0,-.09,.25],[-.41,.09,-.03,.11],[-.71,.01,-.1,.21],[-.6,-.01,-.07,.13],[-.22,.19,0,.08],[-.03,.29,.03,.05],[-.19,.04,0,.07],[-1.21,-.14,.05,.11],[-1.16,-.3,.07,.13],[-1.09,-.23,0,.22],[-1.11,-.05,.06,.2],[-.98,-.16,-.08,.18],[-1,-.25,-.07,.18],[-.88,-.2,-.12,.19],[-.77,-.12,-.12,.17],[-.58,-.18,-.11,.15],[-.59,-.3,-.15,.13],[-.45,-.32,-.13,.11],[-.39,-.18,-.07,.11],[-.3,-.25,-.06,.07],[-.26,-.1,-.04,.08],[-.57,-.44,-.17,.1],[-.51,-.56,-.19,.1],[-.5,-.75,-.21,.12],[-.39,-.69,-.21,.05],[-.31,-.44,-.12,.04],[-.16,-.54,-.13,-.02],[-1.13,-.43,.12,.15],[-1.1,-.51,.06,.14],[-1.45,-.46,.13,.1],[-1.39,-.43,.07,.07],[-.79,-.57,-.12,.18],[-.81,-.72,-.12,.28],[-1.06,-.98,-.08,.39],[-1.28,-.67,0,.07],[-.52,-.98,-.3,.19],[-.21,-.89,-.32,-.02],[-.22,-.92,-.3,-.01],[-.16,-.85,-.33,-.04],[-.88,-1,-.06,.14],[-.78,-1.06,-.1,.22],[-.99,-1.1,-.06,.11],[-.82,-1.15,-.07,.09],[-.47,-1.07,-.24,.1],[-.36,-1.19,-.21,.12],[-.17,-1.19,-.21,.14],[-.1,-1.14,-.18,.11],[0,-1.24,-.15,.1],[.15,-1.26,-.14,.05],[.42,-1.24,-.12,.05],[-.12,-1.34,-.14,.1],[-.28,-1.34,-.09,.12],[.09,-1.34,-.11,.04],[.28,-1.38,-.1,.05],[.41,-1.44,-.1,.08],[-.57,-1.21,-.12,.05],[-.35,-1.43,-.02,.1],[.72,-1.33,-.17,.06],[.68,-1.31,-.13,.04],[0,-.62,-.15,-.09],[.06,-.68,-.22,-.11],[0,-.71,-.17,-.1],[.27,-.77,-.43,-.18],[.41,-.79,-.22,-.15],[.59,-.8,-.21,-.1],[.17,-.95,-.38,-.11],[.05,-1.02,-.26,-.05],[1.06,-.86,-.26,-.06],[1.02,-.86,-.2,-.06],[1.27,-.78,-.16,-.04],[1.36,-.79,-.21,-.08],[.74,-.95,-.19,-.04],[.78,-1.02,-.23,-.04],[.47,-1.05,-.21,0],[.43,-1.1,-.17,.03],[.5,-.58,-.13,-.19],[.87,-.57,-.24,-.2],[.83,-.64,-.19,-.13],[.77,-.58,-.15,-.14],[.56,-.46,-.05,-.17],[.53,-.22,.06,-.17],[.68,-.27,.03,-.22],[.81,-.36,-.04,-.22],[1.01,-.39,-.08,-.2],[.37,-.33,-.03,-.1],[.94,-.2,.02,-.21],[.84,-.12,.08,-.21],[.82,0,.1,-.19],[.99,-.08,.01,-.2],[.6,0,.16,-.15],[.49,-.08,.15,-.11],[.6,-.11,.15,-.15],[.31,-.03,.09,-.06],[.69,.2,.15,-.16],[.65,.33,.18,-.17],[.45,.42,.17,-.08],[.43,.53,.24,-.07],[.44,.51,.22,-.06],[.81,.36,.13,-.18],[.84,.44,.16,-.22],[.63,.93,.33,-.39],[.42,1,.18,-.15],[.56,.84,.15,-.11],[.7,.71,.26,-.27],[.82,.74,.17,-.24],[1.03,.58,.03,-.22],[1.09,.58,-.04,-.21],[1.06,.54,-.02,-.17],[.83,1.03,.06,-.15],[.98,.83,.08,-.12],[.93,1.16,.02,-.09],[1.11,.95,.04,-.17],[1.05,.94,.02,-.11],[1.3,.66,.03,-.08],[1.4,.55,-.06,-.24],[1.45,.48,-.03,-.1],[1.23,.34,-.08,-.17],[1,.2,.05,-.25],[1.05,.22,-.01,-.27],[1.02,.15,.03,-.17],[.96,.23,.04,-.22],[1.19,.13,-.11,-.28],[1.32,.05,-.05,-.2],[1.24,-.19,-.09,-.11],[1.32,-.23,-.09,-.08],[1.21,-.27,-.1,-.13],[1.45,-.25,-.07,-.06],[1.23,-.51,-.12,-.13],[1.25,-.53,-.08,-.1],[1.32,-.52,-.09,-.08],[.28,-.48,-.11,-.13],[.41,.19,.09,-.15],[.45,.19,.06,-.15],[.43,.2,.07,-.14],
[-.87,-.44,-.06,.13],[-.85,-.46,-.07,.13],[-.83,-.5,-.09,.15],[-.89,-.48,-.04,.12],[-.74,.46,-.05,.17],[-.7,.44,-.06,.15],[-.7,.34,-.03,.19],[-1.18,.27,.1,.1],[-1.2,.25,.11,.08],[-1.16,.25,.08,.12],[-1.22,.22,.12,.11],[.44,.08,.05,-.12],[.47,.1,.05,-.13],[.42,.1,.05,-.11],[.25,-.55,-.07,-.09],[.27,-.52,-.09,-.1],[.23,-.53,-.05,-.09],[1.29,-.55,-.13,-.1],[1.03,.42,.01,-.13],[1.04,.4,.02,-.12],[1.02,.46,.01,-.12],[1.04,0,.02,-.14],[1.03,.03,.01,-.13],[1.06,.02,0,-.15],[.48,.49,.22,-.05],[.5,.47,.2,-.06],[.53,.51,.2,-.05],[-.25,1.03,.2,0],[-.2,1.05,.13,-.01],[-.18,1.03,.13,0],[-.27,.85,.14,.07],[-.22,.87,.12,.08],[-.25,.83,.13,.08],[-.86,-.96,-.05,.13],[-.83,-.98,-.06,.13],[-.81,-1,-.08,.14],[.6,-1.32,.12,-.03],[.62,-1.3,.1,-.03],[-.58,-.92,-.23,.02],[-.55,-.9,-.25,.01],[-.3,-.9,-.22,0],[.2,-.97,-.25,-.07],[.12,-1,-.22,-.06],[.8,-.87,-.14,-.03]
];
const cOuterArrows=[
[-2.93,2.57,-.05,.02],[-2.25,2.83,-.04,.04],[-1.72,2.72,-.04,.05],[-1.41,2.94,-.02,.04],[-2.01,2.55,-.04,.04],[-2.62,2.82,-.04,.03],[-1.22,2.54,-.03,.06],[-.78,2.84,-.02,.05],[-.52,2.87,-.01,.05],[.37,2.79,.02,.06],[-.2,2.52,0,.06],[1.02,2.93,.02,.04],[1.58,2.6,.05,.04],[2.13,2.94,.04,.03],[1.89,2.6,.05,.04],[2.6,2.82,.04,.03],[2.67,2.62,.05,.03],[2.83,2.93,.03,.02],
[-2.7,2.07,-.05,.03],[-1.92,2.1,-.05,.03],[-2.58,2.3,-.03,.02],[-2.36,2.38,-.03,.02],[-1.48,2.32,-.04,.05],[-1.12,2.18,-.03,.06],[-.74,2.35,-.02,.06],[-.37,2.21,-.01,.06],[-.57,2.48,-.01,.04],[.23,2.07,.01,.06],[.47,2.29,.02,.05],[.88,2.29,.03,.05],[1.48,2.35,.04,.04],[1.72,2.29,.04,.03],[2.2,2.4,.05,.03],[2.34,2.13,.05,.03],[2.59,2.01,.05,.02],[2.78,2.15,.04,.02],[2.54,2.35,.03,.02],[-2.76,2.4,-.04,.02],
[-.64,1.88,-.01,.05],[-2.08,1.69,-.05,.03],[-2.78,1.65,-.05,.02],[-2.45,1.24,-.05,.01],[-2.61,1.49,-.05,.02],[-1.79,1.54,-.05,.03],[-.95,1.43,-.03,.03],[-.66,1.49,-.03,.04],[.9,1.71,.03,.05],[1.53,1.57,.04,.04],[1.77,1.71,.05,.03],[2.01,1.79,.05,.03],[2.2,1.85,.04,.02],[2.54,1.68,.06,.02],[2.83,1.93,.05,.02],[2.92,1.73,.04,.02],[2.49,1.3,.06,.02],[2.78,1.28,.05,.01],[2.18,1.35,.06,.02],[2.87,1.52,.04,.01],
[-2.95,1.4,-.04,.01],[-2.95,.63,-.04,0],[-2.61,.85,-.05,.01],[-2.18,1.1,-.05,.02],[-2.4,.46,-.05,.01],[2.54,.93,.06,.01],[2.18,.91,.05,.01],[1.99,.96,.05,.01],[2.54,.57,.06,.01],[2.8,.55,.05,0],[2.27,.46,.04,.01],[2.95,.08,.04,0],[2.35,.05,.06,0],[-2.18,.33,-.05,0],[-2.84,.13,-.04,0],[-2.28,0,-.05,0],
[-2.92,-.25,-.04,0],[-2.7,-.09,-.04,0],[2.06,.02,.05,0],[2.49,-.24,.06,-.01],[1.84,.02,.04,0],[1.84,-.5,.05,-.02],[2.15,-.5,.05,-.01],[1.48,-.53,.04,-.03],[1.48,-.09,.05,-.02],[1.96,-.78,.05,-.02],[2.66,-.76,.06,-.02],[2.92,-.95,.05,-.01],[1.67,-.98,.04,-.03],[2.9,-.53,.05,-.01],
[-2.64,-.6,-.05,-.01],[-2.3,-.56,-.05,-.01],[-1.94,-.7,-.06,-.02],[-2.95,-.84,-.04,-.01],[-2.8,-.86,-.05,-.01],[-2.47,-.82,-.05,-.02],[-2.64,-1.13,-.05,-.02],[-2.32,-1.14,-.05,-.02],[-1.72,-1.06,-.05,-.03],[-1.72,-1.39,-.04,-.04],[-2.35,-1.46,-.05,-.02],[-2.8,-1.36,-.05,-.02],[-1.99,-1.17,-.05,-.02],[-1.17,-1.42,-.04,-.04],[-.9,-1.64,-.03,-.04],
[1.67,-1.35,.04,-.03],[2.54,-1.31,.05,-.02],[1.96,-1.36,.05,-.03],[2.78,-1.36,.05,-.02],[1.48,-1.67,.03,-.05],[2.4,-1.89,.04,-.03],[1.02,-1.92,.02,-.05],[1.79,-2.11,.03,-.05],[2.06,-2.27,.04,-.05],[1.48,-2.39,.03,-.05],[1.77,-2.66,.03,-.05],[2.45,-2.58,.04,-.04],[2.83,-2.66,.05,-.03],[2.3,-2.8,.04,-.05],[2.59,-2.86,.04,-.04],[.93,-2.81,.02,-.05],[.32,-2.72,.01,-.06],[.76,-2.19,.02,-.05],[.5,-2.16,.01,-.05],[-.06,-2.12,0,-.05],[-.32,-1.96,0,-.05],[.23,-2.02,.01,-.05],[-.28,-2.52,0,-.05],[-.59,-2.41,-.01,-.05],[-.89,-2.47,-.02,-.05],[-1.48,-2.58,-.03,-.05],[-1.82,-2.41,-.03,-.04],[-2.35,-2.36,-.04,-.04],[-2.71,-2.41,-.04,-.03],[-2.62,-1.72,-.05,-.03],[-2.23,-1.94,-.04,-.04],[-1.43,-1.89,-.03,-.05],[-.74,-2.11,-.01,-.05],[-1.75,-2.14,-.03,-.04],[-1.89,-2.2,-.04,-.04],[-2.47,-2.66,-.04,-.04],[-2.14,-2.86,-.03,-.04],[-1.02,-2.86,-.01,-.05],[-.11,-2.77,0,-.05],[-1.45,-2.91,-.02,-.05],[1.96,-2.19,.03,-.04],[2.2,-1.75,.04,-.03],[2.45,-1.97,.04,-.03],[2.83,-2.41,.04,-.03],
[-2.9,2.6,-.05,.02],[-2.2,2.8,-.04,.03],[-1.68,2.68,-.03,.05],[-1.97,2.5,-.04,.04],[-.75,2.8,-.01,.05],[.41,2.75,.01,.06],[-.16,2.48,0,.05],[2.16,2.9,.04,.03],[1.62,2.55,.04,.04],[2.64,2.78,.04,.03],[-2.66,2.03,-.05,.03],[-1.88,2.05,-.05,.03],[-1.44,2.28,-.04,.04],[-.33,2.17,0,.05],[.27,2.03,.01,.05],[.92,2.25,.03,.04],[1.52,2.3,.04,.03],[2.3,2.1,.05,.03],[2.62,1.97,.05,.02],[-2.04,1.65,-.05,.03],[-2.74,1.61,-.05,.02],[-2.41,1.2,-.04,.01],[-1.75,1.5,-.04,.03],[1.57,1.53,.04,.03],[1.81,1.67,.05,.03],[2.05,1.75,.04,.03],[2.58,1.64,.05,.02],[2.53,1.26,.05,.02],[2.22,1.31,.05,.02],[2.58,.89,.05,.01],[2.22,.87,.04,.01],[2.58,.53,.05,.01],[-2.57,.81,-.05,.01],[-2.14,1.06,-.05,.02],[-2.36,.42,-.04,.01],[2.53,-.28,.05,-.01],[1.88,-.54,.04,-.02],[2.19,-.46,.05,-.01],[1.52,-.57,.04,-.02],[2,-.82,.05,-.02],[-2.6,-.64,-.05,-.01],[-2.26,-.6,-.05,-.01],[-1.9,-.74,-.05,-.02],[-2.43,-.86,-.05,-.02],[-2.6,-1.17,-.04,-.02],[-2.28,-1.18,-.05,-.02],[-1.68,-1.1,-.05,-.03],[-1.68,-1.43,-.04,-.03],[-2.31,-1.5,-.05,-.03],[1.71,-1.39,.04,-.03],[2.58,-1.35,.05,-.02],[2,-1.4,.05,-.03],[1.52,-1.71,.03,-.05],[2.44,-1.93,.04,-.03],[1.83,-2.15,.03,-.04],[2.1,-2.31,.04,-.04],[1.52,-2.43,.03,-.05],[1.81,-2.7,.03,-.04],[2.49,-2.62,.04,-.04],[2.87,-2.7,.04,-.03],[.97,-2.85,.02,-.05],[.36,-2.76,.01,-.05],[.8,-2.23,.02,-.05],[.54,-2.2,.01,-.05],[-.28,-2,0,-.05],[.27,-2.06,.01,-.05],[-.24,-2.56,0,-.05],[-.55,-2.45,-.01,-.05],[-.85,-2.51,-.02,-.05],[-1.44,-2.62,-.03,-.05],[-1.78,-2.45,-.03,-.04],[-2.31,-2.4,-.04,-.04],[-2.58,-1.76,-.05,-.03],[-2.19,-1.98,-.04,-.04],[-1.39,-1.93,-.03,-.04],[-.7,-2.15,-.01,-.05],[-2.43,-2.7,-.04,-.04],
[-2.85,2.2,-.04,.02],[-1.6,2.05,-.04,.04],[-1.25,1.95,-.03,.05],[-.9,2,-.02,.05],[-.2,1.9,0,.05],[.6,1.95,.02,.05],[1.2,2.05,.03,.04],[1.3,2.55,.03,.05],[.7,2.55,.02,.05],[.1,2.7,0,.05],[-1,2.6,-.02,.05],[-1.65,1.85,-.04,.03],[-2.3,2.1,-.04,.03],[-2.9,1.1,-.04,.01],[-2.6,.2,-.04,0],[1.9,1.2,.05,.02],[2.4,1.55,.05,.02],[1.3,1.75,.03,.04],[2.9,.95,.04,.01],[2.75,.2,.04,0],[2.9,-.25,.05,0],[2.3,-1,.05,-.02],[2.85,-1.75,.05,-.02],[2.65,-2.1,.04,-.03],[1.15,-2.35,.02,-.05],[1.2,-2.7,.02,-.05],[-1.2,-2.2,-.02,-.05],[-1.15,-2.55,-.02,-.05],[-2,-1.55,-.04,-.03],[-2.9,-2.1,-.04,-.03],[-2.9,-1.6,-.05,-.02],[1.25,-1.55,.03,-.04],[1.2,-1.1,.04,-.03],[1.9,-1.7,.04,-.03]
];

// turns [z,y,dz,dy] into tail, tip and the two barbs, with gaps between arrows
function arrowLines(list){
    const pts=[];
    const gap={x:NaN,y:NaN};
    list.forEach(a=>{
        const tx=a[0]+a[2], ty=a[1]+a[3];
        const bx=tx-a[2]*.28, by=ty-a[3]*.28;
        const px=-a[3]*.09, py=a[2]*.09;
        pts.push({x:a[0],y:a[1]},{x:tx,y:ty},{x:bx+px,y:by+py},gap,{x:tx,y:ty},{x:bx-px,y:by-py},gap);
    });
    return pts;
}

function regionSet(poly,color,i){
    return {data:poly.map(p=>({x:p[0],y:p[1]})),showLine:true,fill:'shape',backgroundColor:color,borderColor:color,borderWidth:1,pointRadius:0,order:-i};
}
function arrowSet(list,i){
    return {data:arrowLines(list),showLine:true,fill:false,borderColor:'#000',borderWidth:1,pointRadius:0,order:-i};
}

// inward ticks and the thick frame, placed with the chart's scales
const framePlugin={
    id:'frame',
    afterDatasetsDraw(chart){
        const {ctx,chartArea:ca,scales:{x,y}}=chart;
        ctx.save();
        ctx.strokeStyle='#000';
        const marks=(vals,len,w)=>{
            ctx.lineWidth=w;
            ctx.beginPath();
            vals.forEach(v=>{
                const px=x.getPixelForValue(v), py=y.getPixelForValue(v);
                ctx.moveTo(px,ca.top);ctx.lineTo(px,ca.top+len);
                ctx.moveTo(px,ca.bottom);ctx.lineTo(px,ca.bottom-len);
                ctx.moveTo(ca.left,py);ctx.lineTo(ca.left+len,py);
                ctx.moveTo(ca.right,py);ctx.lineTo(ca.right-len,py);
            });
            ctx.stroke();
        };
        marks(minorTicks,11.5,1);
        marks(tickValues,20,4);
        ctx.lineWidth=5;
        ctx.strokeRect(ca.left,ca.top,ca.width,ca.height);
        ctx.restore();
    }
};

function panel(id,datasets){
    const tickFont={family:'"Liberation Serif"',size:47};
    const titleFont={family:'"Liberation Serif"',size:44,style:'italic'};
    const label=v=>tickLabels[tickValues.indexOf(v)];
    new Chart(document.getElementById(id),{
        type:'scatter',
        data:{datasets:datasets},
        options:{
            responsive:false,
            animation:false,
            devicePixelRatio:1,
            layout:{autoPadding:false,padding:{left:0,top:41.5,right:30,bottom:0}},
            plugins:{legend:{display:false},tooltip:{enabled:false}},
            scales:{
                x:{
                    type:'linear',min:-3,max:3,
                    afterFit:s=>{s.height=277.5},
                    afterBuildTicks:s=>{s.ticks=tickValues.map(v=>({value:v}))},
                    grid:{display:false,drawTicks:false},border:{display:false},
                    ticks:{font:tickFont,color:'#000',padding:1,maxRotation:0,autoSkip:false,callback:label},
                    title:{display:true,text:'Z/R',font:titleFont,color:'#222',padding:{top:0,bottom:183}}
                },
                y:{
                    type:'linear',min:-3,max:3,
                    afterFit:s=>{s.width=103.5},
                    afterBuildTicks:s=>{s.ticks=tickValues.map(v=>({value:v}))},
                    grid:{display:false,drawTicks:false},border:{display:false},
                    ticks:{font:tickFont,color:'#000',padding:12,autoSkip:false,callback:label},
                    title:{display:true,text:'Y/R',font:titleFont,color:'#222',padding:{top:8,bottom:0}}
                }
            }
        },
        plugins:[framePlugin]
    });
}

const panelARegions=[[plotBox,'#00c0ff'],[aWave,'#00f0ff'],[aBlobOuter,'#0090ff'],[aBlobMid,'#0060ff'],[aBlobInner,'#0030ff'],[aBlobCore,'#0000ff'],[aGreen1,'#00ffd0'],[aGreen2,'#00ffa0'],[aGreen3,'#00ff70'],[aGreen4,'#00ff40'],[aGreen5,'#1fff00'],[aTip,'#fff000'],[aLowerGreen,'#00ffd0'],[aLowerBlue,'#0090ff'],[aLowerCore,'#0060ff']];
const setsA=panelARegions.map((r,i)=>regionSet(r[0],r[1],i));
setsA.push({data:aBlade.map(p=>({x:p[0],y:p[1]})),showLine:true,fill:'shape',backgroundColor:'#fff',borderColor:'#ff0000',borderWidth:2,pointRadius:0,order:-20});
setsA.push({data:aBladeTip.map(p=>({x:p[0],y:p[1]})),showLine:true,fill:false,borderColor:'#ff3000',borderWidth:2,pointRadius:0,order:-21});
panel('panelA',setsA);

const setsB=[regionSet(plotBox,'#00c0ff',0),regionSet(bCyan,'#00f0ff',1),arrowSet(bOuterArrows,2),arrowSet(bTuftArrows,3),arrowSet(bRingArrows,4)];
panel('panelB',setsB);

const setsC=[regionSet(plotBox,'#00c0ff',0),regionSet(cCyan,'#00f0ff',1),regionSet(cIsland1,'#00c0ff',2),regionSet(cIsland2,'#00c0ff',3),arrowSet(cOuterArrows,4),arrowSet(cInnerArrows,5)];
panel('panelC',setsC);

// colour bar: one floating bar per contour band
new Chart(document.getElementById('bar'),{
    type:'bar',
    data:{
        labels:[''],
        datasets:bandColors.map((c,i)=>({data:[[bandEdges[i+1],bandEdges[i]]],backgroundColor:c,borderColor:'#000',borderWidth:1,borderSkipped:false,grouped:false,barPercentage:1,categoryPercentage:1}))
    },
    options:{
        responsive:false,
        animation:false,
        devicePixelRatio:1,
        layout:{autoPadding:false,padding:{left:12.5,top:41.5,right:0,bottom:314}},
        plugins:{legend:{display:false},tooltip:{enabled:false}},
        scales:{
            x:{display:false},
            y:{
                type:'linear',position:'right',min:-.2265,max:.825,
                afterFit:s=>{s.width=109.5},
                afterBuildTicks:s=>{s.ticks=levels.map(v=>({value:v}))},
                grid:{display:false,drawTicks:false},border:{display:false},
                ticks:{font:{family:'"Liberation Serif"',size:25},color:'#000',padding:12,labelOffset:5,autoSkip:false,callback:v=>levelLabels[levels.indexOf(v)]}
            }
        }
    }
});
</script>
</body>
</html>
